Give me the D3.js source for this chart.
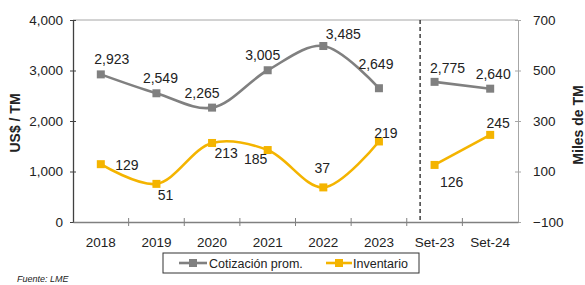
<!DOCTYPE html>
<html><head><meta charset="utf-8">
<script src="https://cdn.jsdelivr.net/npm/d3@7"></script>
<style>
body{margin:0;background:#fff;}
text{font-family:"Liberation Sans",Arial,sans-serif;fill:#222;}
</style></head>
<body><svg id="c" width="585" height="285"></svg>
<script>
const categories = ["2018","2019","2020","2021","2022","2023","Set-23","Set-24"];
const cotizacion = [2923,2549,2265,3005,3485,2649,2775,2640];
const inventario = [129,51,213,185,37,219,126,245];
const leftTicks = [0,1000,2000,3000,4000];
const rightTicks = [-100,100,300,500,700];
const segments = [[0,5],[6,7]];
// label placement (layout)
const grayLabelOffsets = [[11,-10],[4,-10],[-10,-10],[-5,-10],[20,-7],[-3,-19],[13,-9],[3,-10]];
const yellowLabelOffsets = [[26,6],[9,16],[14,15],[-12,14],[-1,-14],[7,-3],[17,22],[8,-7]];

const svg = d3.select("#c");
const L=73,R=518,T=20,B=222;
const x = d3.scaleBand().domain(categories).range([L,R]);
const yL = d3.scaleLinear().domain([0,4000]).range([B,T]);
const yR = d3.scaleLinear().domain([-100,700]).range([B,T]);
const fmt = d3.format(",");
const GRAY="#808080", YEL="#f4b400";

// top border
svg.append("line").attr("x1",L).attr("x2",R).attr("y1",T).attr("y2",T).attr("stroke","#a6a6a6").attr("stroke-width",1);

// left axis
const gL = svg.append("g").attr("transform",`translate(${L},0)`)
  .call(d3.axisLeft(yL).tickValues(leftTicks).tickFormat(fmt).tickSizeInner(3).tickSizeOuter(0).tickPadding(7));
gL.select(".domain").attr("stroke","#404040").attr("stroke-width",1.3);
gL.selectAll(".tick line").attr("x2",3).attr("x1",-3).attr("stroke","#404040");
gL.selectAll("text").attr("font-size",13.5).attr("fill","#333").style("font-family","Liberation Sans,Arial");

// right axis
const gR = svg.append("g").attr("transform",`translate(${R},0)`)
  .call(d3.axisRight(yR).tickValues(rightTicks).tickFormat(d3.format("d")).tickSizeInner(3).tickSizeOuter(0).tickPadding(12));
gR.select(".domain").attr("stroke","#a6a6a6");
gR.selectAll(".tick line").attr("x1",-3).attr("x2",3).attr("stroke","#a6a6a6");
gR.selectAll("text").attr("font-size",13.5).attr("fill","#333").style("font-family","Liberation Sans,Arial");

// bottom axis
const gB = svg.append("g").attr("transform",`translate(0,${B})`)
  .call(d3.axisBottom(x).tickSize(0).tickPadding(15));
gB.select(".domain").attr("stroke","#808080").attr("stroke-width",1.3);
gB.selectAll("text").attr("font-size",13.5).attr("fill","#333").style("font-family","Liberation Sans,Arial");
// boundary ticks
const bounds = categories.map((c)=>x(c)).concat([R]).slice(1,8);
gB.selectAll(".bt").data(bounds).enter().append("line")
  .attr("x1",d=>d).attr("x2",d=>d).attr("y1",-4).attr("y2",4).attr("stroke","#808080");

// dashed separator
const sepX = x("Set-23") + x.bandwidth()*0.24;
svg.append("line").attr("x1",sepX).attr("x2",sepX).attr("y1",T).attr("y2",B)
  .attr("stroke","#222").attr("stroke-width",1.3).attr("stroke-dasharray","4,3");

// axis titles
svg.append("text").attr("transform","translate(20,123) rotate(-90)").attr("text-anchor","middle")
  .attr("font-size",14).attr("font-weight","bold").attr("fill","#222").text("US$ / TM");
svg.append("text").attr("transform","translate(583,125) rotate(-90)").attr("text-anchor","middle")
  .attr("font-size",14).attr("font-weight","bold").attr("fill","#222").text("Miles de TM");

const cx = i => x(categories[i]) + x.bandwidth()/2;
function drawSeries(vals, yS, color, offs){
  const line = d3.line().x(d=>cx(d)).y(d=>yS(vals[d])).curve(d3.curveCatmullRom.alpha(0.5));
  segments.forEach(([a,b])=>{
    svg.append("path").datum(d3.range(a,b+1)).attr("d",line)
      .attr("fill","none").attr("stroke",color).attr("stroke-width",2.6);
  });
  svg.selectAll(null).data(vals).enter().append("rect")
    .attr("x",(d,i)=>cx(i)-4).attr("y",d=>yS(d)-4).attr("width",8).attr("height",8).attr("fill",color);
  svg.selectAll(null).data(vals).enter().append("text")
    .attr("x",(d,i)=>cx(i)+offs[i][0]).attr("y",(d,i)=>yS(d)+offs[i][1])
    .attr("text-anchor","middle").attr("font-size",14).attr("fill","#222").text(d=>fmt(d));
}
drawSeries(cotizacion, yL, GRAY, grayLabelOffsets);
drawSeries(inventario, yR, YEL, yellowLabelOffsets);

// legend
const lg = svg.append("g");
lg.append("rect").attr("x",163).attr("y",253).attr("width",256).attr("height",20).attr("fill","#fff").attr("stroke","#333").attr("stroke-width",1);
lg.append("line").attr("x1",179).attr("x2",207).attr("y1",263).attr("y2",263).attr("stroke",GRAY).attr("stroke-width",2.6);
lg.append("rect").attr("x",189).attr("y",259).attr("width",8).attr("height",8).attr("fill",GRAY);
lg.append("text").attr("x",209).attr("y",267.5).attr("font-size",12.5).attr("fill","#222").text("Cotización prom.");
lg.append("line").attr("x1",326).attr("x2",352).attr("y1",263).attr("y2",263).attr("stroke",YEL).attr("stroke-width",2.6);
lg.append("rect").attr("x",335).attr("y",259).attr("width",8).attr("height",8).attr("fill",YEL);
lg.append("text").attr("x",353).attr("y",267.5).attr("font-size",12.5).attr("fill","#222").text("Inventario");

// source
svg.append("text").attr("x",17).attr("y",282).attr("font-size",9).attr("font-style","italic").attr("fill","#444").text("Fuente: LME");
</script></body></html>
